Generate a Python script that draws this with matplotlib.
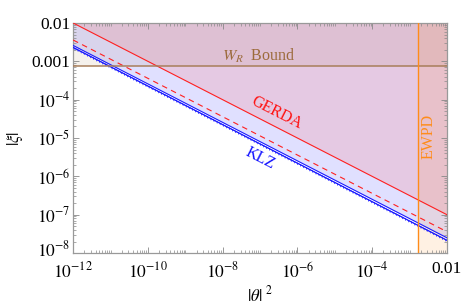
import numpy as np
import matplotlib
matplotlib.use('Agg')
import matplotlib.pyplot as plt
import matplotlib.patheffects as pe
import matplotlib.transforms as mtransforms
from matplotlib.ticker import LogLocator, FixedLocator, NullFormatter

plt.rcParams['font.family'] = ['Liberation Serif', 'DejaVu Serif']
plt.rcParams['mathtext.fontset'] = 'stix'

# line end points (straight lines on log-log axes)
theta2 = [1e-12, 1e-2]
gerda = [1e-2, 1e-7]            # GERDA bound, solid
gerda_future = [3.6e-3, 3.6e-8] # dashed
klz = [2.6e-3, 2.5e-8]          # KLZ bound
klz_hatch = [2.3e-3, 2.15e-8]   # hatched edge
wr_bound = 7.7e-4
ewpd_bound = 1.7e-3

xticks = [1e-12, 1e-10, 1e-8, 1e-6, 1e-4, 1e-2]
xlabels = [r'$10^{-12}$', r'$10^{-10}$', r'$10^{-8}$', r'$10^{-6}$', r'$10^{-4}$', '0.01']
yticks = [1e-8, 1e-7, 1e-6, 1e-5, 1e-4, 1e-3, 1e-2]
ylabels = [r'$10^{-8}$', r'$10^{-7}$', r'$10^{-6}$', r'$10^{-5}$', r'$10^{-4}$', '0.001', '0.01']

xlo, xhi = 1e-12, 1e-2
ylo, yhi = 1e-8, 1e-2

fig = plt.figure(figsize=(4.63, 3.06), dpi=100)
ax = fig.add_axes([0.158, 0.173, 0.8074, 0.7518])
ax.set_xscale('log')
ax.set_yscale('log')

# shaded regions
ax.fill_between(theta2, klz, yhi, color=(0.0, 0.0, 1.0), alpha=0.12, lw=0, zorder=1)
ax.fill_between(theta2, gerda, yhi, color=(1.0, 0.35, 0.35), alpha=0.17, lw=0, zorder=1)
ax.fill_between([xlo, xhi], wr_bound, yhi, color=(0.6, 0.4, 0.2), alpha=0.09, lw=0, zorder=1)
ax.fill_betweenx([ylo, yhi], ewpd_bound, xhi, color=(1.0, 0.55, 0.1), alpha=0.12, lw=0, zorder=1)

# bound lines
ax.plot(theta2, gerda, color='#ff2020', lw=0.8, zorder=3)
ax.plot(theta2, gerda_future, color='#ff2020', lw=0.8, ls=(0, (5, 4)), zorder=3)
ax.plot(theta2, klz, color='#1a1aff', lw=0.8, zorder=3)
ax.plot(theta2, klz_hatch, color='#1a1aff', lw=0.7, zorder=3,
        path_effects=[pe.withTickedStroke(angle=-50, spacing=2.5, length=0.45, linewidth=0.5), pe.Normal()])
ax.axhline(wr_bound, color='#a87e5a', lw=1.1, zorder=3)
ax.axvline(ewpd_bound, color='#ff8c1a', lw=1.0, zorder=3)

# labels on the plot
ax.text(10**-7.05, 10**-2.86, r'$W_R$  Bound', color='#9c6b3c', fontsize=11.5,
        ha='center', va='center')
ax.text(10**-6.55, 10**-4.35, 'GERDA', color='#ff1010', fontsize=11.5,
        ha='center', va='center', rotation=-27, rotation_mode='anchor')
ax.text(10**-7.0, 10**-5.52, 'KLZ', color='#1010ff', fontsize=11.5,
        ha='center', va='center', rotation=-27, rotation_mode='anchor')
ax.text(10**-2.48, 10**-4.95, 'EWPD', color='#ff8c1a', fontsize=11.5,
        ha='center', va='center', rotation=90, rotation_mode='anchor')

ax.set_xlim(xlo, xhi)
ax.set_ylim(ylo, yhi)

ax.xaxis.set_major_locator(FixedLocator(xticks))
ax.set_xticklabels(xlabels)
ax.xaxis.set_minor_locator(LogLocator(base=10, subs=np.arange(1, 10), numticks=50))
ax.xaxis.set_minor_formatter(NullFormatter())
ax.yaxis.set_major_locator(FixedLocator(yticks))
ax.set_yticklabels(ylabels)
ax.yaxis.set_minor_locator(LogLocator(base=10, subs=np.arange(2, 10), numticks=50))
ax.yaxis.set_minor_formatter(NullFormatter())

ax.tick_params(which='both', direction='in', top=True, right=True, color='#888888',
               labelsize=12.5)
ax.tick_params(axis='x', pad=6)
ax.tick_params(axis='y', pad=2)
ax.tick_params(which='major', length=4, width=0.6)
ax.tick_params(which='minor', length=2, width=0.5)
for s in ax.spines.values():
    s.set_color('#999999')
    s.set_linewidth(0.9)

# lift the lowest y label a little so it clears the first x label
lowest = ax.get_yticklabels()[0]
lowest.set_transform(lowest.get_transform() +
                     mtransforms.ScaledTranslation(0, 3 / 72, fig.dpi_scale_trans))

ax.set_xlabel(r'$|\theta|\ ^{2}$', fontsize=12, labelpad=3)
ax.set_ylabel(r'$|\xi|$', fontsize=12, labelpad=5)

fig.savefig('out.png', dpi=100)
